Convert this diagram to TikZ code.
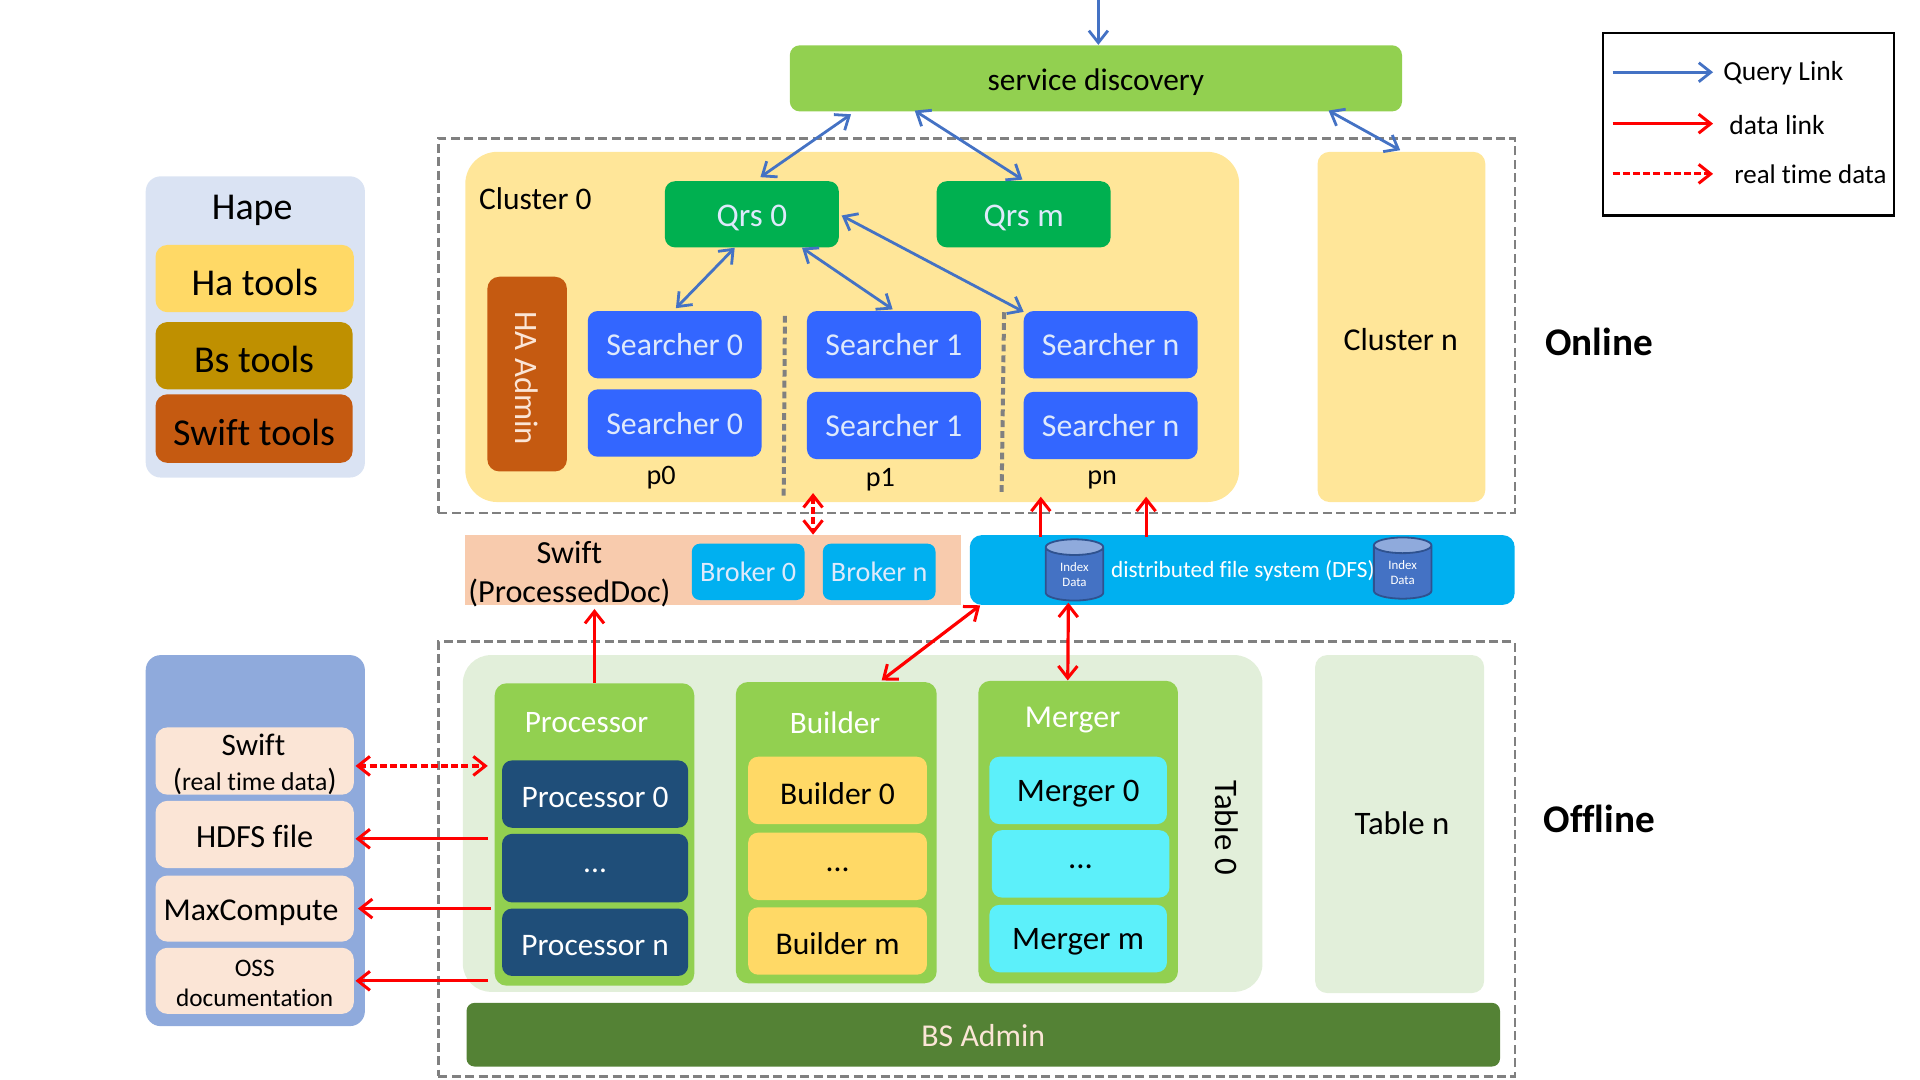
\documentclass[tikz,border=0pt]{standalone}
\usepackage{fontspec}
\setmainfont[Ligatures=NoCommon]{Carlito}
\usetikzlibrary{arrows.meta,shapes.geometric,calc}
\newcommand\sz[1]{\fontsize{\fpeval{#1*0.6122}pt}{\fpeval{#1*0.73}pt}\selectfont}
\newcommand\panedrop{-2pt}
% A filled box given by its corners: style, name, x1, y1, x2, y2, text
\newcommand\pane[7][]{%
  \node[panebox,#1,minimum width=\fpeval{(#5-#3)*0.6122}pt,minimum height=\fpeval{(#6-#4)*0.6122}pt]
    (#2) at ({(#3+#5)/2},{(#4+#6)/2}) {\raisebox{\panedrop}[\height][\depth]{#7}};}
\definecolor{leaf}{HTML}{92D050}
\definecolor{sunny}{HTML}{FFE699}
\definecolor{gold}{HTML}{FFD966}
\definecolor{ochre}{HTML}{BF9000}
\definecolor{rust}{HTML}{C55A11}
\definecolor{emerald}{HTML}{00B050}
\definecolor{royal}{HTML}{3366FF}
\definecolor{navy}{HTML}{1F4E79}
\definecolor{sky}{HTML}{00B0F0}
\definecolor{aqua}{HTML}{5CF0FA}
\definecolor{mint}{HTML}{E2EFDA}
\definecolor{moss}{HTML}{548235}
\definecolor{peach}{HTML}{F8CBAD}
\definecolor{cream}{HTML}{FBE5D6}
\definecolor{steel}{HTML}{8FAADC}
\definecolor{mist}{HTML}{DAE3F3}
\definecolor{linkblue}{HTML}{4472C4}
\definecolor{cylline}{HTML}{2F528F}
\definecolor{softwhite}{HTML}{DEE9FB}
\tikzset{
  x=0.6122pt,y=-0.6122pt,
  panebox/.style={rectangle,inner sep=0pt,rounded corners=5pt,align=center,text=black},
  big/.style={rounded corners=7.5pt},
  mid/.style={rounded corners=6pt},
  small/.style={rounded corners=4pt},
  zone/.style={draw=black!50,line width=1.2pt,dash pattern=on 4.5pt off 2.2pt},
  parting/.style={draw=black!50,line width=2pt,dash pattern=on 3.4pt off 2pt},
  bluetip/.tip={Straight Barb[length=6pt,width=9.5pt,line width=1.4pt]},
  redtip/.tip={Straight Barb[length=6pt,width=9.5pt,line width=1.5pt]},
  query/.style={draw=linkblue,line width=1.4pt,-bluetip},
  querytwo/.style={draw=linkblue,line width=1.4pt,bluetip-bluetip},
  datal/.style={draw=red,line width=1.6pt,-redtip},
  datatwo/.style={draw=red,line width=1.6pt,redtip-redtip},
  realone/.style={draw=red,line width=1.6pt,-{Straight Barb[length=6pt,width=9.5pt,line width=1.5pt]},dash pattern=on 3.5pt off 1.6pt},
  realtwo/.style={datatwo,dash pattern=on 3.5pt off 1.6pt},
  store/.style={cylinder,shape border rotate=90,aspect=0.55,draw=cylline,line width=0.9pt,
    cylinder uses custom fill,cylinder body fill=linkblue,cylinder end fill=steel,
    minimum width=\fpeval{47*0.6122}pt,minimum height=\fpeval{50*0.6122}pt,
    inner sep=0pt,align=center,text=white},
}
\begin{document}
\begin{tikzpicture}
\useasboundingbox (0,0) rectangle (1568,882);

% Online and offline zones
\pane[zone,rounded corners=0pt]{online}{358}{113}{1237}{419}{}
\pane[zone,rounded corners=0pt]{offline}{358}{524}{1237}{879}{}

% Service discovery and legend
\pane[fill=leaf,font=\sz{25.6}]{sd}{645}{37}{1145}{91}{service discovery}
\coordinate (entry) at (897,0);
\pane[draw=black,line width=1.1pt,rounded corners=0pt]{legend}{1309}{27}{1547}{176}{}
\coordinate (qa) at (1317,59); \coordinate (qb) at (1399,59);
\coordinate (da) at (1317,101); \coordinate (db) at (1399,101);
\coordinate (ra) at (1317,142); \coordinate (rb) at (1399,142);
\node[anchor=west,inner sep=0pt,font=\sz{22.5}] (lq) at (1407,60) {Query Link};
\node[anchor=west,inner sep=0pt,font=\sz{22.5}] (ld) at (1412,102) {data link};
\node[anchor=west,inner sep=0pt,font=\sz{22}] (lr) at (1416,142) {real time data};

% Hape tool group
\pane[fill=mist,big]{hape}{119}{144}{298}{390}{}
\node[font=\sz{31}] (hapet) at (206,172) {Hape};
\pane[fill=gold,mid,font=\sz{31}]{ha}{127}{200}{289}{255}{Ha tools}
\pane[fill=ochre,mid,font=\sz{31}]{bs}{127}{263}{288}{318}{Bs tools}
\pane[fill=rust,mid,font=\sz{31}]{swt}{127}{322}{288}{378}{Swift tools}

% Cluster 0
\pane[fill=sunny,rounded corners=16pt]{c0}{380}{124}{1012}{410}{}
\node[anchor=west,inner sep=0pt,font=\sz{25.7}] (c0t) at (391,162) {Cluster 0};
\pane[fill=emerald,text=softwhite,font=\sz{27}]{q0}{543}{148}{685}{202}{Qrs 0}
\pane[fill=emerald,text=softwhite,font=\sz{27}]{qm}{765}{148}{907}{202}{Qrs m}
\pane[fill=rust,mid]{ha0}{398}{226}{463}{385}{}
\node[rotate=-90,text=cream,font=\sz{26.7}] (ha0t) at (430,309) {HA Admin};
\tikzset{searcher/.style={fill=royal,text=softwhite,font=\sz{26}}}
\renewcommand\panedrop{0pt}
\pane[searcher]{s0a}{480}{254}{622}{309}{Searcher 0}
\pane[searcher]{s0b}{480}{318}{622}{373}{Searcher 0}
\pane[searcher]{s1a}{659}{254}{801}{309}{Searcher 1}
\pane[searcher]{s1b}{659}{320}{801}{375}{Searcher 1}
\pane[searcher]{sna}{836}{254}{978}{309}{Searcher n}
\pane[searcher]{snb}{836}{320}{978}{375}{Searcher n}
\node[font=\sz{23}] (p0) at (540,390) {p0};
\node[font=\sz{23}] (p1) at (719,392) {p1};
\node[font=\sz{23}] (pn) at (900,392) {pn};
\coordinate (d1a) at (641,258); \coordinate (d1b) at (640,405);
\coordinate (d2a) at (820,255); \coordinate (d2b) at (818,402);
\draw[parting] (d1a) -- (d1b);
\draw[parting] (d2a) -- (d2b);

% Cluster n and zone titles
\pane[fill=sunny,mid]{cn}{1076}{124}{1213}{410}{}
\node[font=\sz{26}] (cnt) at (1144,277) {Cluster n};
\node[font=\bfseries\sz{32}] (on) at (1306,279) {Online};
\node[font=\bfseries\sz{32}] (off) at (1306,669) {Offline};

% Swift band and distributed file system
\pane[fill=peach,rounded corners=0pt]{swb}{380}{437}{785}{494}{}
\node[font=\sz{26.3},align=center] (swbt) at (465,469) {Swift\\(ProcessedDoc)};
\pane[fill=sky,small,text=softwhite,font=\sz{23}]{b0}{565}{444}{657}{490}{Broker 0}
\pane[fill=sky,small,text=softwhite,font=\sz{23}]{bn}{672}{444}{764}{490}{Broker n}
\pane[fill=sky,mid]{dfs}{792}{437}{1237}{494}{}
\node[text=white,font=\sz{19}] (dfst) at (1015,466) {distributed file system (DFS)};
\node[store,font=\sz{10.5}] (i0) at (877.5,469) {Index\\Data};
\node[store,font=\sz{10.5}] (i1) at (1145.5,467.5) {Index\\Data};

% Table 0 with its three worker groups
\pane[fill=mint,rounded corners=14pt]{t0}{378}{535}{1031}{810}{}
\node[rotate=-90,font=\sz{26.8}] (t0t) at (1002,676) {Table 0};
\pane[fill=mint,mid]{tn}{1074}{535}{1212}{811}{}
\node[font=\sz{26.8}] (tnt) at (1145,672) {Table n};

\renewcommand\panedrop{-1.5pt}
\pane[fill=leaf,mid]{proc}{404}{558}{567}{805}{}
\node[text=white,font=\sz{25.5}] (proct) at (479,590) {Processor};
\tikzset{procitem/.style={fill=navy,text=white,font=\sz{25.6}}}
\pane[procitem]{p0b}{410}{621}{562}{676}{Processor 0}
\pane[procitem]{p1b}{410}{681}{562}{737}{...}
\pane[procitem]{p2b}{410}{742}{562}{797}{Processor n}

\pane[fill=leaf,mid]{bld}{601}{557}{765}{803}{}
\node[text=white,font=\sz{25.5}] (bldt) at (682,590) {Builder};
\tikzset{blditem/.style={fill=gold,font=\sz{25.8}}}
\pane[blditem]{b0b}{611}{618}{757}{673}{Builder 0}
\pane[blditem]{b1b}{611}{680}{757}{735}{...}
\pane[blditem]{b2b}{611}{741}{757}{796}{Builder m}

\pane[fill=leaf,mid]{mrg}{799}{556}{962}{803}{}
\node[text=white,font=\sz{26}] (mrgt) at (876,588) {Merger};
\tikzset{mrgitem/.style={fill=aqua,font=\sz{26.8}}}
\pane[mrgitem]{m0b}{808}{618}{953}{673}{Merger 0}
\pane[mrgitem]{m1b}{810}{678}{955}{733}{...}
\pane[mrgitem]{m2b}{808}{739}{953}{794}{Merger m}

\renewcommand\panedrop{-0.5pt}
\pane[fill=moss,small,text=cream,font=\sz{26}]{bsa}{381}{819}{1225}{871}{BS Admin}

% Data sources
\pane[fill=steel,big]{src}{119}{535}{298}{838}{}
\tikzset{srcitem/.style={fill=cream,mid}}
\pane[srcitem]{sw}{127}{594}{289}{649}{}
\node[font=\sz{25.5}] (swt1) at (207,608) {Swift};
\node[font=\sz{21}] (swt2) at (208,638) {\sz{25}(\sz{21}real time data\sz{25})};
\pane[srcitem]{hd}{127}{654}{289}{709}{}
\node[font=\sz{26.4}] (hdt) at (208,683) {HDFS file};
\pane[srcitem]{mc}{127}{715}{289}{769}{}
\node[font=\sz{26}] (mct) at (205,745) {MaxCompute};
\pane[srcitem]{os}{127}{774}{289}{828}{}
\node[font=\sz{20.6},align=center] (ost) at (208,803) {OSS\\documentation};

% Query links
\draw[query] (qa) -- (qb);
\draw[query] (entry) -- ([shift={(2,0)}]sd.north);
\draw[querytwo] ([shift={(7,-3)}]q0.north) -- ([shift={(-200,2)}]sd.south);
\draw[querytwo] ([shift={(-148,-1)}]sd.south) -- ([shift={(-1,-1)}]qm.north);
\draw[querytwo] ([shift={(190,-1)}]sd.south) -- ([shift={(-1,-1)}]cn.north);
\draw[querytwo] ([shift={(1,-2)}]s0a.north) -- ([shift={(-14,0)}]q0.south);
\draw[querytwo] ([shift={(41,0)}]q0.south) -- ([shift={(-1,-1)}]s1a.north);
\draw[querytwo] ([shift={(2,1)}]q0.east) -- ([shift={(-71,1)}]sna.north);

% Data links
\draw[datal] (da) -- (db);
\draw[realone] (ra) -- (rb);
\draw[realtwo] ([shift={(-350.5,-34)}]dfs.north) -- ([shift={(-350.5,0)}]dfs.north);
\draw[datal] ([shift={(-164.5,2)}]dfs.north) -- ([shift={(-164.5,-31)}]dfs.north);
\draw[datal] ([shift={(-78.5,2)}]dfs.north) -- ([shift={(-78.5,-31)}]dfs.north);
\draw[datal] (proc.north) -- ($(swb.south -| proc.north)+(0,3)$);
\draw[datatwo] ([shift={(37,-1)}]bld.north) -- ([shift={(-214,0)}]dfs.south);
\draw[datatwo] ([shift={(-5,1)}]i0.south) -- ([shift={(-8.5,0)}]mrg.north);
\draw[realtwo] ([shift={(1,4)}]sw.east) -- ([shift={(109,4)}]sw.east);
\draw[datal] ($(proc.west |- hd.east)+(-5,3.5)$) -- ([shift={(1,3.5)}]hd.east);
\draw[datal] ($(proc.west |- mc.east)+(-3,0)$) -- ([shift={(3,0)}]mc.east);
\draw[datal] ($(proc.west |- os.east)+(-5,0)$) -- ([shift={(1,0)}]os.east);
\end{tikzpicture}
\end{document}
